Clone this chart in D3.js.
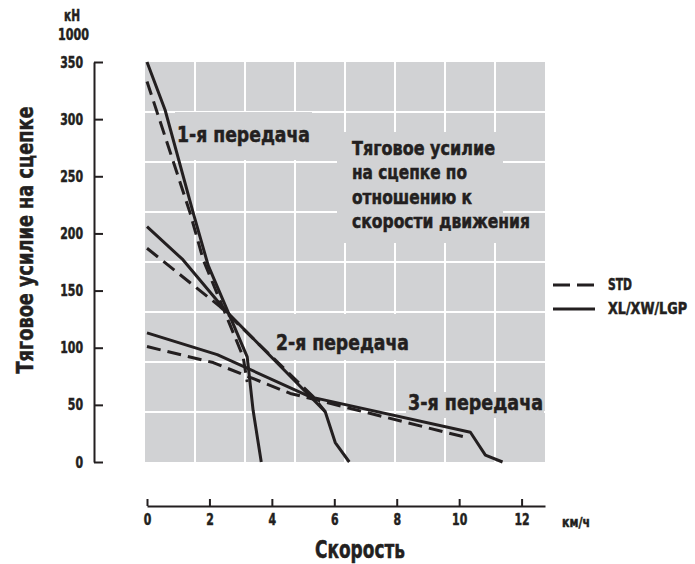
<!DOCTYPE html>
<html>
<head>
<meta charset="utf-8">
<script src="https://cdn.jsdelivr.net/npm/d3@7"></script>
<style>
  body { margin: 0; background: #fff; }
  svg text { font-family: "Liberation Sans Narrow", "DejaVu Sans Condensed", sans-serif; font-weight: bold; fill: #231f20; stroke: #231f20; stroke-width: 0.5px; }
</style>
</head>
<body>
<svg id="chart" width="695" height="564"></svg>
<script>
// axis ticks
const speedTicks = [0, 2, 4, 6, 8, 10, 12];
const forceTicks = [0, 50, 100, 150, 200, 250, 300, 350];

// 1st gear (speed km/h, force kN/1000)
const xl1Speed = [0, 0.58, 1.48, 1.96, 3.21, 3.40, 3.66];
const xl1Force = [350, 308, 218, 172, 92, 45, 0];
const std1Speed = [0, 1.38, 1.80, 3.08, 3.21];
const std1Force = [333, 218, 177, 92, 70];

// 2nd gear
const xl2Speed = [0, 1.15, 2.50, 5.71, 6.03, 6.48];
const xl2Force = [206, 177, 133, 44, 17, 0];
const std2Speed = [0, 2.34, 5.33, 5.71];
const std2Force = [187, 136, 57, 44];

// 3rd gear
const xl3Speed = [0, 2.25, 5.23, 10.36, 10.84, 11.39];
const xl3Force = [113, 94, 57, 26, 6, 0];
const std3Speed = [0, 2.12, 4.59, 10.3];
const std3Force = [101, 87, 60, 21];

const seriesNames = ["STD", "XL/XW/LGP"];
const gearLabels = ["1-я передача", "2-я передача", "3-я передача"];
const titleLines = ["Тяговое усилие", "на сцепке по", "отношению к", "скорости движения"];

const ink = "#231f20";
const panelGray = "#d1d2d4";

const svg = d3.select("#chart");

const x = d3.scaleLinear().domain([0, 12.75]).range([147, 545]);
const y = d3.scaleLinear().domain([0, 350]).range([462, 62]);

// squeeze a text to a given width (the original face is a condensed one)
function fit(sel, len) {
  return sel.attr("textLength", len).attr("lengthAdjust", "spacingAndGlyphs");
}

// gray panel with its own 50px grid
const panel = { left: 145, top: 62, size: 400 };
const cell = d3.scaleLinear().domain([0, 8]).range([0, panel.size]);

svg.append("rect")
  .attr("x", panel.left)
  .attr("y", panel.top)
  .attr("width", panel.size)
  .attr("height", panel.size)
  .attr("fill", panelGray);

const grid = svg.append("g").attr("stroke", "#fff").attr("stroke-width", 2);
grid.selectAll("line.v")
  .data(d3.range(1, 8))
  .enter().append("line")
  .attr("class", "v")
  .attr("x1", d => panel.left + cell(d)).attr("x2", d => panel.left + cell(d))
  .attr("y1", panel.top).attr("y2", panel.top + panel.size);
grid.selectAll("line.h")
  .data(d3.range(1, 8))
  .enter().append("line")
  .attr("class", "h")
  .attr("y1", d => panel.top + cell(d)).attr("y2", d => panel.top + cell(d))
  .attr("x1", panel.left).attr("x2", panel.left + panel.size);

// text annotations inside the panel, each on a gray patch hiding the grid
const notes = [
  { lines: [gearLabels[0]], widths: [133], x: 177, y: 142, size: 21, patch: [175, 112, 137, 48] },
  { lines: [gearLabels[1]], widths: [133], x: 276, y: 350, size: 21, patch: [274, 314, 137, 46] },
  { lines: [gearLabels[2]], widths: [135], x: 408, y: 410, size: 21, patch: [406, 392, 138, 26] },
  { lines: titleLines, widths: [143, 115, 120, 178], x: 352, y: 155, size: 20, patch: [337, 132, 166, 111] }
];

const patchLayer = svg.append("g");
const lineLayer = svg.append("g");
const noteLayer = svg.append("g");

notes.forEach(n => {
  patchLayer.append("rect")
    .attr("x", n.patch[0])
    .attr("y", n.patch[1])
    .attr("width", n.patch[2])
    .attr("height", n.patch[3])
    .attr("fill", panelGray);
  n.lines.forEach((s, i) => {
    noteLayer.append("text")
      .attr("x", n.x)
      .attr("y", n.y + i * 24.3)
      .style("font-size", n.size + "px")
      .text(s)
      .call(fit, n.widths[i]);
  });
});

// curves
const line = d3.line().x(d => x(d[0])).y(d => y(d[1]));
const curves = [
  { s: xl1Speed, f: xl1Force, dashed: false },
  { s: xl2Speed, f: xl2Force, dashed: false },
  { s: xl3Speed, f: xl3Force, dashed: false },
  { s: std1Speed, f: std1Force, dashed: true },
  { s: std2Speed, f: std2Force, dashed: true },
  { s: std3Speed, f: std3Force, dashed: true }
];

curves.forEach(c => {
  lineLayer.append("path")
    .datum(d3.zip(c.s, c.f))
    .attr("d", line)
    .attr("fill", "none")
    .attr("stroke", ink)
    .attr("stroke-width", 3)
    .attr("stroke-linejoin", "round")
    .attr("stroke-dasharray", c.dashed ? "14,7" : null);
});

// y axis, ticks pointing into the chart
const yAxis = svg.append("g")
  .attr("transform", "translate(94,0)")
  .call(d3.axisLeft(y).tickValues(forceTicks).tickSizeInner(-9).tickSizeOuter(0).tickPadding(11));

// x axis sits below the panel, ticks pointing up
const xAxis = svg.append("g")
  .attr("transform", "translate(0,506)")
  .call(d3.axisBottom(x).tickValues(speedTicks).tickSizeInner(-7).tickSizeOuter(0).tickPadding(8));

[yAxis, xAxis].forEach(a => {
  a.attr("font-family", null).attr("font-size", 16);
  a.selectAll("path, line").attr("stroke", ink).attr("stroke-width", 2);
});
yAxis.selectAll(".tick text").each(function (d) {
  d3.select(this).call(fit, String(d).length * 7.6);
});
xAxis.selectAll(".tick text").each(function (d) {
  d3.select(this).call(fit, String(d).length * 7.6);
});

// axis captions
svg.append("text").attr("x", 64).attr("y", 21).style("font-size", "15px").text("кН").call(fit, 16);
svg.append("text").attr("x", 58).attr("y", 40).style("font-size", "16px").text("1000").call(fit, 31);
svg.append("text").attr("x", 562).attr("y", 527).style("font-size", "14px").text("км/ч").call(fit, 28);

svg.append("text")
  .attr("transform", "translate(33,240) rotate(-90)")
  .attr("text-anchor", "middle")
  .style("font-size", "23px")
  .text("Тяговое усилие на сцепке")
  .call(fit, 267);

svg.append("text")
  .attr("x", 360)
  .attr("y", 558)
  .attr("text-anchor", "middle")
  .style("font-size", "24px")
  .text("Скорость")
  .call(fit, 90);

// legend
const legend = svg.append("g").attr("transform", "translate(553,285)");
const legendItems = legend.selectAll("g")
  .data(seriesNames)
  .enter().append("g")
  .attr("transform", (d, i) => `translate(0, ${i * 24})`);

legendItems.append("line")
  .attr("x1", 0).attr("x2", 42)
  .attr("stroke", ink)
  .attr("stroke-width", 3)
  .attr("stroke-dasharray", d => d === "STD" ? "17,7" : null);

legendItems.append("text")
  .attr("x", 55)
  .attr("y", 5)
  .style("font-size", "15px")
  .text(d => d)
  .each(function (d) {
    d3.select(this).call(fit, d === "STD" ? 24 : 79);
  });
</script>
</body>
</html>
